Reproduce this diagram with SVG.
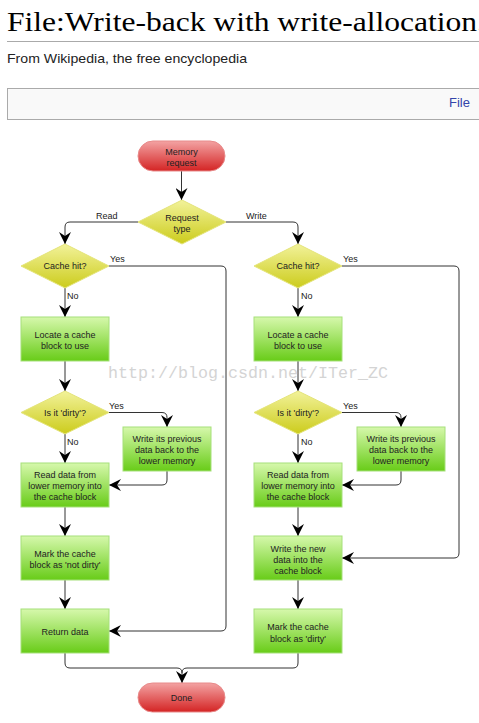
<svg xmlns="http://www.w3.org/2000/svg" width="479" height="723" viewBox="0 0 479 723">
<defs>
<linearGradient id="gRed" x1="0" y1="0" x2="0" y2="1"><stop offset="0" stop-color="#f3a3a3"/><stop offset="1" stop-color="#d42424"/></linearGradient>
<linearGradient id="gYel" x1="0" y1="0" x2="0" y2="1"><stop offset="0" stop-color="#f2f29a"/><stop offset="1" stop-color="#cccc1c"/></linearGradient>
<linearGradient id="gGrn" x1="0" y1="0" x2="0" y2="1"><stop offset="0" stop-color="#d6f8ac"/><stop offset="1" stop-color="#68cc18"/></linearGradient>
<marker id="arr" viewBox="0 0 12 12" refX="12" refY="6" markerWidth="12" markerHeight="12" markerUnits="userSpaceOnUse" orient="auto"><path d="M0,0 L12,6 L0,12 L4,6 Z" fill="#000"/></marker>
</defs>
<style>
.t{font-family:"Liberation Sans",Arial,sans-serif;font-size:9px;fill:#222;text-anchor:middle}
.l{font-family:"Liberation Sans",Arial,sans-serif;font-size:9px;fill:#222}
.red{fill:url(#gRed);stroke:#e88a8a;stroke-width:1}
.yel{fill:url(#gYel);stroke:#e4e47a;stroke-width:1}
.grn{fill:url(#gGrn);stroke:#a6e07a;stroke-width:1}
.c{fill:none;stroke:#333;stroke-width:1}
.ca{fill:none;stroke:#333;stroke-width:1;marker-end:url(#arr)}
</style>
<rect width="479" height="723" fill="#fff"/>
<g id="header">
<text x="7" y="31" font-family="'Liberation Serif','DejaVu Serif',serif" font-size="28" fill="#000" textLength="478" lengthAdjust="spacingAndGlyphs">File:Write-back with write-allocation.</text>
<line x1="7" y1="41.5" x2="479" y2="41.5" stroke="#aaa" stroke-width="1"/>
<text x="7" y="63" font-family="'Liberation Sans',Arial,sans-serif" font-size="13" fill="#222" textLength="240" lengthAdjust="spacingAndGlyphs">From Wikipedia, the free encyclopedia</text>
<rect x="7.5" y="88.5" width="480" height="31" fill="#f9f9f9" stroke="#aaa"/>
<text x="449" y="107" font-family="'Liberation Sans',Arial,sans-serif" font-size="13" fill="#3344aa">File</text>
</g>
<g id="connectors">
<path class="ca" d="M181.5 171 V200"/>
<path class="ca" d="M138 222 H70 Q65 222 65 227 V244"/>
<path class="ca" d="M226 222 H293 Q298 222 298 227 V244"/>
<path class="ca" d="M65 288 V317"/>
<path class="ca" d="M298 288 V317"/>
<path class="ca" d="M109 266 H221 Q226 266 226 271 V626 Q226 631 221 631 H109"/>
<path class="ca" d="M342 266 H454 Q459 266 459 271 V553 Q459 558 454 558 H342"/>
<path class="ca" d="M65 361 V391"/>
<path class="ca" d="M298 361 V391"/>
<path class="ca" d="M109 412.5 H162 Q167 412.5 167 417.5 V427"/>
<path class="ca" d="M342 412.5 H396 Q401 412.5 401 417.5 V427"/>
<path class="ca" d="M167 471 V480 Q167 485 162 485 H109"/>
<path class="ca" d="M401 471 V480 Q401 485 396 485 H342"/>
<path class="ca" d="M65 434 V463"/>
<path class="ca" d="M298 434 V463"/>
<path class="ca" d="M65 507 V536"/>
<path class="ca" d="M298 507 V536"/>
<path class="ca" d="M65 580 V609"/>
<path class="ca" d="M298 580 V609"/>
<path class="ca" d="M65 653 V663 Q65 668 70 668 H177 Q182 668 182 673 V683"/>
<path class="c" d="M298 653 V663 Q298 668 293 668 H187 Q182 668 182 673"/>
<text class="l" x="96" y="219">Read</text>
<text class="l" x="246" y="219">Write</text>
<text class="l" x="110" y="262">Yes</text>
<text class="l" x="343" y="262">Yes</text>
<text class="l" x="67" y="299">No</text>
<text class="l" x="301" y="299">No</text>
<text class="l" x="109" y="409">Yes</text>
<text class="l" x="343" y="409">Yes</text>
<text class="l" x="67" y="445">No</text>
<text class="l" x="301" y="445">No</text>
</g>
<g id="memory-request"><rect class="red" x="138" y="141" width="87" height="30" rx="15"/><text class="t" x="181.5" y="155">Memory</text><text class="t" x="181.5" y="166">request</text></g>
<g id="request-type"><polygon class="yel" points="182,200 226,222 182,244 138,222"/><text class="t" x="182" y="221">Request</text><text class="t" x="182" y="232">type</text></g>
<g id="cache-hit-read"><polygon class="yel" points="65,244 109,266 65,288 21,266"/><text class="t" x="65" y="269">Cache hit?</text></g>
<g id="cache-hit-write"><polygon class="yel" points="298,244 342,266 298,288 254,266"/><text class="t" x="298" y="269">Cache hit?</text></g>
<g id="locate-read"><rect class="grn" x="21" y="317" width="88" height="44"/><text class="t" x="65" y="338">Locate a cache</text><text class="t" x="65" y="349">block to use</text></g>
<g id="locate-write"><rect class="grn" x="254" y="317" width="88" height="44"/><text class="t" x="298" y="338">Locate a cache</text><text class="t" x="298" y="349">block to use</text></g>
<g id="dirty-read"><polygon class="yel" points="65,391 109,412.5 65,434 21,412.5"/><text class="t" x="65" y="416">Is it 'dirty'?</text></g>
<g id="dirty-write"><polygon class="yel" points="298,391 342,412.5 298,434 254,412.5"/><text class="t" x="298" y="416">Is it 'dirty'?</text></g>
<g id="writeback-read"><rect class="grn" x="123" y="427" width="88" height="44"/><text class="t" x="167" y="442">Write its previous</text><text class="t" x="167" y="453">data back to the</text><text class="t" x="167" y="464">lower memory</text></g>
<g id="writeback-write"><rect class="grn" x="357" y="427" width="88" height="44"/><text class="t" x="401" y="442">Write its previous</text><text class="t" x="401" y="453">data back to the</text><text class="t" x="401" y="464">lower memory</text></g>
<g id="readdata-read"><rect class="grn" x="21" y="463" width="88" height="44"/><text class="t" x="65" y="478">Read data from</text><text class="t" x="65" y="489">lower memory into</text><text class="t" x="65" y="500">the cache block</text></g>
<g id="readdata-write"><rect class="grn" x="254" y="463" width="88" height="44"/><text class="t" x="298" y="478">Read data from</text><text class="t" x="298" y="489">lower memory into</text><text class="t" x="298" y="500">the cache block</text></g>
<g id="mark-not-dirty"><rect class="grn" x="21" y="536" width="88" height="44"/><text class="t" x="65" y="557">Mark the cache</text><text class="t" x="65" y="568">block as 'not dirty'</text></g>
<g id="write-new"><rect class="grn" x="254" y="536" width="88" height="44"/><text class="t" x="298" y="552">Write the new</text><text class="t" x="298" y="563">data into the</text><text class="t" x="298" y="574">cache block</text></g>
<g id="return-data"><rect class="grn" x="21" y="609" width="88" height="44"/><text class="t" x="65" y="635">Return data</text></g>
<g id="mark-dirty"><rect class="grn" x="254" y="609" width="88" height="44"/><text class="t" x="298" y="630">Mark the cache</text><text class="t" x="298" y="642">block as 'dirty'</text></g>
<g id="done"><rect class="red" x="138" y="683" width="87" height="29" rx="14.5"/><text class="t" x="181.5" y="701">Done</text></g>
<g id="watermark"><text x="108" y="378" font-family="'Liberation Mono','DejaVu Sans Mono',monospace" font-size="17" fill="#d4d4d4" textLength="280" lengthAdjust="spacingAndGlyphs">http://blog.csdn.net/ITer_ZC</text></g>
</svg>
